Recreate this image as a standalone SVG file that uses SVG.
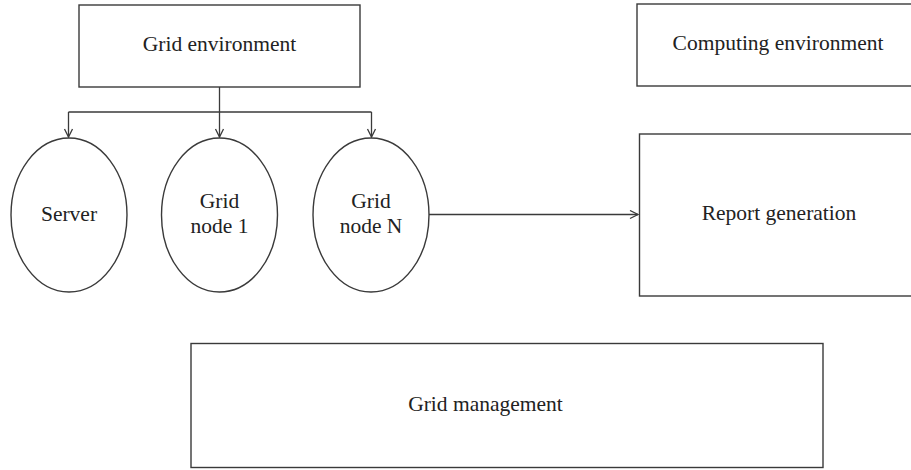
<svg xmlns="http://www.w3.org/2000/svg" width="911" height="470" viewBox="0 0 911 470">
<style>
.box{fill:#fff;stroke:#3a3a3a;stroke-width:1.4}
.lbl{font-family:"Liberation Serif","Times New Roman",serif;font-size:21.5px;fill:#222;text-anchor:middle}
.con{fill:none;stroke:#3a3a3a;stroke-width:1.3}
</style>
<defs>
<marker id="arr" markerWidth="12" markerHeight="12" refX="9" refY="5" orient="auto" markerUnits="userSpaceOnUse">
<path d="M1,1 L9,5 L1,9" fill="none" stroke="#3a3a3a" stroke-width="1.3"/>
</marker>
</defs>
<rect width="911" height="470" fill="#fff"/>
<g id="connectors">
<path class="con" d="M219.5,87 V112"/>
<path class="con" d="M68.5,112 H371.5"/>
<path class="con" d="M68.5,112 V137" marker-end="url(#arr)"/>
<path class="con" d="M219.5,112 V137" marker-end="url(#arr)"/>
<path class="con" d="M371.5,112 V137" marker-end="url(#arr)"/>
<path class="con" d="M429,214.5 H638" marker-end="url(#arr)"/>
</g>
<g id="grid-environment">
<rect class="box" x="79" y="5" width="281" height="82"/>
<text class="lbl" x="219.5" y="51">Grid environment</text>
</g>
<g id="computing-environment">
<rect class="box" x="637" y="4" width="280" height="82"/>
<text class="lbl" x="778" y="50">Computing environment</text>
</g>
<g id="server">
<ellipse class="box" cx="69" cy="215" rx="58" ry="77"/>
<text class="lbl" x="69" y="221">Server</text>
</g>
<g id="grid-node-1">
<ellipse class="box" cx="219.5" cy="215" rx="58" ry="77"/>
<text class="lbl" x="219.5" y="208">Grid</text>
<text class="lbl" x="219.5" y="233">node 1</text>
</g>
<g id="grid-node-n">
<ellipse class="box" cx="371" cy="215" rx="58" ry="77"/>
<text class="lbl" x="371" y="208">Grid</text>
<text class="lbl" x="371" y="233">node N</text>
</g>
<g id="report-generation">
<rect class="box" x="639.5" y="134" width="280" height="162"/>
<text class="lbl" x="779" y="220">Report generation</text>
</g>
<g id="grid-management">
<rect class="box" x="191" y="343.5" width="632" height="124"/>
<text class="lbl" x="485.5" y="411">Grid management</text>
</g>
</svg>
